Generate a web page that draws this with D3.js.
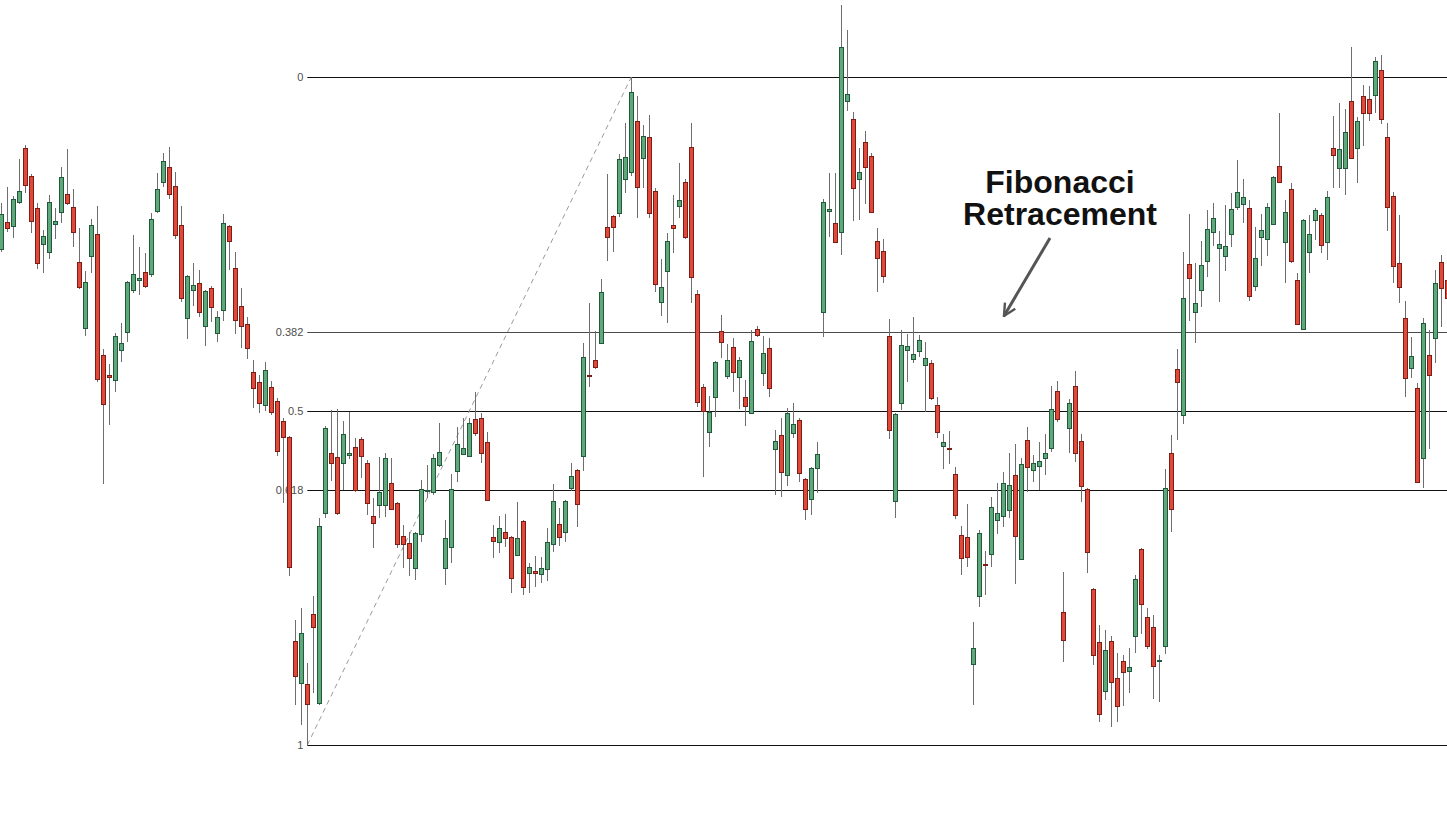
<!DOCTYPE html>
<html>
<head>
<meta charset="utf-8">
<script src="https://cdn.jsdelivr.net/npm/d3@7"></script>
<style>
  html, body { margin: 0; padding: 0; background: #fff; }
  svg { display: block; }
</style>
</head>
<body>
<svg id="chart" width="1447" height="815"></svg>
<script>
// Daily OHLC series (index points)
const open  = [2496,2523,2519,2543,2597,2569,2537,2501,2493,2521,2533,2551,2538,2483,2417,2489,2511,2390,2370,2365,
  2395,2413,2455,2465,2473,2471,2534,2563,2578,2559,2520,2427,2455,2462,2419,2457,2412,2435,2519,2477,
  2439,2421,2373,2363,2340,2358,2344,2324,2308,2104,2062,2061,2131,2042,2232,2292,2288,2282,2290,2298,
  2306,2282,2229,2240,2240,2262,2242,2209,2202,2177,2211,2254,2253,2280,2177,2198,2274,2291,2289,2326,
  2327,2303,2208,2203,2213,2208,2190,2224,2172,2174,2171,2176,2201,2221,2213,2257,2275,2289,2370,2385,
  2402,2518,2529,2532,2566,2573,2624,2587,2608,2554,2443,2474,2520,2539,2563,2598,2451,2358,2313,2348,
  2414,2369,2398,2368,2348,2332,2416,2372,2397,2296,2310,2270,2312,2325,2266,2246,2277,2433,2534,2522,
  2513,2644,2626,2566,2603,2589,2504,2494,2409,2244,2342,2395,2386,2394,2380,2382,2340,2299,2297,2271,
  2210,2208,2081,2149,2181,2191,2225,2229,2235,2270,2186,2305,2275,2279,2287,2297,2354,2133,2317,2359,
  2304,2256,2156,2103,2054,2104,2067,2084,2074,2109,2196,2128,2118,2084,2099,2292,2376,2330,2481,2433,
  2455,2484,2513,2497,2489,2511,2538,2541,2537,2459,2508,2506,2521,2579,2503,2556,2465,2416,2493,2525,
  2530,2503,2597,2577,2577,2644,2597,2649,2646,2650,2675,2608,2549,2482,2427,2377,2357,2287,2390,2407,
  2483,2465];
const high  = [2542,2558,2549,2586,2600,2571,2542,2515,2550,2537,2578,2596,2556,2517,2474,2526,2539,2396,2381,2412,
  2422,2464,2510,2498,2492,2532,2572,2592,2598,2573,2539,2470,2482,2475,2455,2459,2434,2531,2520,2493,
  2457,2428,2385,2370,2383,2364,2347,2327,2309,2125,2137,2082,2149,2227,2319,2335,2336,2324,2333,2307,
  2308,2285,2247,2288,2292,2287,2243,2220,2213,2213,2265,2280,2291,2322,2225,2271,2318,2327,2327,2353,
  2332,2313,2220,2229,2231,2209,2243,2225,2182,2189,2188,2217,2261,2237,2245,2282,2276,2402,2442,2414,
  2466,2571,2530,2591,2622,2668,2649,2620,2630,2557,2486,2512,2550,2582,2566,2622,2455,2361,2349,2384,
  2430,2401,2407,2388,2365,2415,2419,2409,2407,2315,2327,2337,2342,2327,2267,2278,2303,2546,2572,2572,
  2740,2715,2633,2597,2614,2592,2517,2506,2426,2332,2415,2411,2428,2410,2403,2385,2348,2311,2314,2278,
  2219,2241,2123,2215,2194,2248,2262,2273,2292,2301,2287,2318,2290,2303,2311,2359,2364,2173,2346,2374,
  2311,2257,2157,2120,2115,2109,2092,2090,2097,2170,2197,2137,2130,2090,2276,2310,2396,2493,2531,2482,
  2504,2535,2542,2514,2540,2552,2585,2566,2545,2518,2531,2542,2569,2632,2545,2562,2472,2526,2530,2537,
  2532,2554,2629,2642,2636,2698,2628,2660,2659,2688,2690,2622,2553,2530,2444,2408,2362,2427,2415,2475,
  2490,2475];
const low   = [2493,2513,2507,2541,2552,2512,2476,2472,2486,2506,2522,2540,2498,2456,2409,2472,2363,2261,2320,2353,
  2383,2403,2452,2450,2457,2468,2532,2558,2546,2506,2443,2406,2439,2428,2399,2423,2403,2424,2475,2411,
  2397,2386,2337,2332,2334,2330,2289,2242,2169,2040,2020,2000,2052,2040,2227,2264,2230,2255,2286,2253,
  2267,2230,2197,2227,2228,2235,2197,2177,2169,2165,2203,2247,2250,2278,2160,2182,2263,2290,2288,2309,
  2282,2244,2187,2192,2198,2152,2189,2150,2152,2158,2162,2164,2193,2199,2203,2254,2218,2274,2358,2376,
  2401,2484,2493,2528,2552,2569,2527,2557,2527,2453,2429,2422,2492,2527,2506,2442,2338,2268,2298,2328,
  2387,2366,2353,2336,2319,2331,2408,2359,2348,2250,2248,2259,2307,2263,2225,2230,2252,2408,2508,2502,
  2490,2634,2524,2525,2541,2532,2453,2462,2306,2227,2335,2363,2382,2388,2333,2345,2307,2276,2281,2226,
  2170,2178,2040,2138,2150,2178,2211,2218,2227,2161,2185,2253,2263,2255,2270,2293,2323,2083,2292,2283,
  2243,2172,2080,2023,2045,2018,2023,2039,2052,2092,2111,2096,2046,2043,2091,2213,2305,2321,2424,2402,
  2438,2468,2499,2443,2474,2498,2535,2522,2444,2454,2479,2489,2520,2562,2462,2482,2420,2415,2472,2505,
  2492,2485,2557,2557,2550,2586,2562,2599,2624,2632,2621,2514,2462,2442,2348,2367,2262,2257,2296,2382,
  2418,2440];
const close = [2531,2517,2546,2554,2560,2524,2482,2509,2543,2524,2568,2542,2513,2458,2463,2520,2366,2341,2368,2409,
  2402,2463,2471,2467,2459,2526,2556,2584,2551,2510,2447,2469,2460,2433,2454,2438,2428,2522,2504,2425,
  2419,2397,2357,2342,2375,2333,2294,2308,2178,2069,2112,2041,2118,2219,2317,2282,2232,2311,2292,2255,
  2289,2242,2222,2253,2287,2236,2201,2201,2187,2212,2256,2255,2287,2293,2207,2256,2301,2297,2322,2312,
  2292,2245,2204,2217,2207,2167,2207,2158,2178,2172,2177,2203,2244,2208,2244,2269,2241,2388,2369,2378,
  2453,2508,2518,2586,2588,2653,2558,2609,2532,2461,2458,2504,2517,2545,2508,2468,2343,2334,2333,2383,
  2403,2385,2373,2385,2339,2404,2410,2392,2357,2304,2273,2332,2321,2272,2236,2277,2291,2543,2536,2503,
  2698,2651,2557,2573,2578,2533,2487,2469,2315,2331,2400,2399,2391,2405,2387,2347,2313,2303,2296,2230,
  2187,2188,2097,2212,2180,2238,2232,2262,2260,2209,2281,2278,2282,2284,2292,2336,2326,2105,2342,2292,
  2259,2193,2090,2031,2095,2063,2039,2073,2078,2166,2141,2099,2079,2085,2257,2236,2363,2447,2467,2442,
  2480,2516,2527,2501,2499,2536,2553,2548,2449,2487,2515,2538,2568,2563,2533,2484,2421,2525,2511,2535,
  2500,2548,2590,2596,2613,2587,2624,2632,2632,2684,2626,2538,2479,2458,2367,2389,2263,2422,2370,2462,
  2457,2447];

// Swing used for the retracement grid
const swingLowIndex = 51;
const swingHighIndex = 105;
const fibRatios = [0, 0.382, 0.5, 0.618, 1];
const fibLabels = ["0", "0.382", "0.5", "0.618", "1"];
const titleLines = ["Fibonacci", "Retracement"];

const W = 1447, H = 815;
const svg = d3.select("#chart");

const x = d3.scaleLinear().domain([0, 241]).range([1.3, 1447.3]);
const y = d3.scaleLinear().domain([1930, 2745]).range([H, 0]);

const swingHigh = high[swingHighIndex];
const swingLow = low[swingLowIndex];
const fibPrice = r => swingHigh - r * (swingHigh - swingLow);

// Retracement levels
const levels = svg.append("g");
levels.selectAll("line")
  .data(fibRatios)
  .join("line")
  .attr("x1", x(swingLowIndex))
  .attr("x2", W)
  .attr("y1", r => Math.round(y(fibPrice(r))) + 0.5)
  .attr("y2", r => Math.round(y(fibPrice(r))) + 0.5)
  .attr("stroke", r => r === 0.382 ? "#4a4a4a" : "#111")
  .attr("stroke-width", 1);

levels.selectAll("text")
  .data(fibRatios)
  .join("text")
  .attr("x", x(swingLowIndex) - 4)
  .attr("y", r => y(fibPrice(r)))
  .attr("dy", "0.35em")
  .attr("text-anchor", "end")
  .attr("font-family", "Arial, 'Liberation Sans', sans-serif")
  .attr("font-size", 11)
  .attr("fill", "#4d4d4d")
  .text((r, i) => fibLabels[i]);

// Swing trend line
svg.append("line")
  .attr("x1", x(swingLowIndex)).attr("y1", y(swingLow))
  .attr("x2", x(swingHighIndex)).attr("y2", y(swingHigh))
  .attr("stroke", "#9a9a9a")
  .attr("stroke-width", 1)
  .attr("stroke-dasharray", "5,4");

// Candles
const idx = d3.range(open.length);
const up = i => close[i] >= open[i];
const candles = svg.append("g");

candles.selectAll("line.wick")
  .data(idx)
  .join("line")
  .attr("class", "wick")
  .attr("x1", i => Math.round(x(i)) + 0.5)
  .attr("x2", i => Math.round(x(i)) + 0.5)
  .attr("y1", i => y(high[i]))
  .attr("y2", i => y(low[i]))
  .attr("stroke", "#6e6e6e")
  .attr("stroke-width", 1);

candles.selectAll("rect.body")
  .data(idx)
  .join("rect")
  .attr("class", "body")
  .attr("x", i => Math.round(x(i)) - 1.5)
  .attr("width", 4)
  .attr("y", i => Math.round(y(Math.max(open[i], close[i]))) + 0.5)
  .attr("height", i => Math.max(1, Math.round(Math.abs(y(open[i]) - y(close[i])))))
  .attr("fill", i => up(i) ? "#5fa87b" : "#e0483a")
  .attr("stroke", i => up(i) ? "#22593a" : "#7c1e16")
  .attr("stroke-width", 1);

// Title and pointer
const title = svg.append("text")
  .attr("x", 1060)
  .attr("y", 193)
  .attr("text-anchor", "middle")
  .attr("font-family", "Arial, 'Liberation Sans', sans-serif")
  .attr("font-weight", "bold")
  .attr("font-size", 32)
  .attr("fill", "#111");
title.selectAll("tspan")
  .data(titleLines)
  .join("tspan")
  .attr("x", 1060)
  .attr("dy", (d, i) => i === 0 ? 0 : 32)
  .text(d => d);

const defs = svg.append("defs");
defs.append("marker")
  .attr("id", "head")
  .attr("viewBox", "0 0 10 10")
  .attr("refX", 9).attr("refY", 5)
  .attr("markerWidth", 5).attr("markerHeight", 5)
  .attr("orient", "auto")
  .append("path")
  .attr("d", "M1,1 L9,5 L1,9")
  .attr("fill", "none")
  .attr("stroke", "#555")
  .attr("stroke-width", 1.6);

svg.append("line")
  .attr("x1", 1050).attr("y1", 238)
  .attr("x2", 1004).attr("y2", 316)
  .attr("stroke", "#555")
  .attr("stroke-width", 3)
  .attr("marker-end", "url(#head)");
</script>
</body>
</html>
